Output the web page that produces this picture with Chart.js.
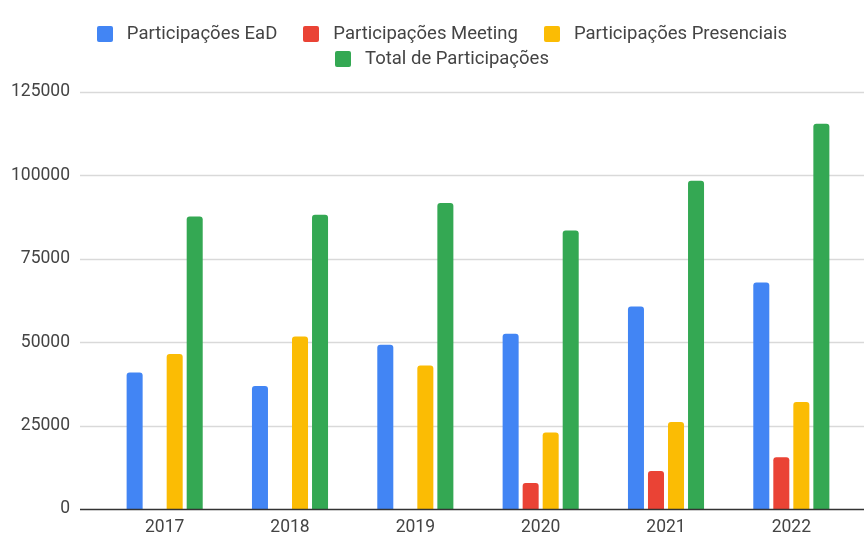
<!DOCTYPE html>
<html><head><meta charset="utf-8">
<script src="https://cdn.jsdelivr.net/npm/chart.js@4"></script>
<style>
html,body{margin:0;padding:0;background:#fff;}
#wrap{position:relative;width:864px;height:533px;overflow:hidden;}
#legend{position:absolute;left:82px;top:21px;width:720px;display:flex;flex-wrap:wrap;justify-content:center;font-family:Roboto,Arial,sans-serif;font-size:18.5px;line-height:25px;color:#444;}
#legend .it{display:inline-flex;align-items:center;margin:0 13px;white-space:nowrap;}
#legend .bx{width:16px;height:16px;border-radius:2px;margin-right:14px;}
canvas{display:block;}
</style></head>
<body><div id="wrap"><div id="legend"></div><canvas id="c" width="864" height="533"></canvas></div>
<script>
const categories = ['2017', '2018', '2019', '2020', '2021', '2022'];
const seriesNames = ['Participações EaD', 'Participações Meeting', 'Participações Presenciais', 'Total de Participações'];
const seriesColors = ['#4285F4', '#EA4335', '#FBBC04', '#34A853'];
const ead = [40900, 36900, 49200, 52500, 60700, 67900];
const meeting = [null, null, null, 7800, 11400, 15500];
const presenciais = [46500, 51700, 43000, 22900, 26100, 32100];
const total = [87700, 88200, 91700, 83500, 98400, 115500];
const yTicks = [0, 25000, 50000, 75000, 100000, 125000];

const seriesValues = [ead, meeting, presenciais, total];

// HTML legend
const lg = document.getElementById('legend');
seriesNames.forEach((n, i) => {
  const it = document.createElement('span'); it.className = 'it';
  const b = document.createElement('span'); b.className = 'bx'; b.style.background = seriesColors[i];
  const t = document.createElement('span'); t.textContent = n;
  it.appendChild(b); it.appendChild(t); lg.appendChild(it);
});

const gridPlugin = {
  id: 'fullGrid',
  beforeDatasetsDraw(chart) {
    const y = chart.scales.y, ctx = chart.ctx;
    ctx.save();
    yTicks.forEach(v => {
      if (v === 0) return;
      const py = Math.round(y.getPixelForValue(v)) + 0.5;
      ctx.strokeStyle = '#d9d9d9'; ctx.lineWidth = 1.4;
      ctx.beginPath(); ctx.moveTo(80, py); ctx.lineTo(chart.width, py); ctx.stroke();
    });
    ctx.restore();
  },
  afterDatasetsDraw(chart) {
    const y = chart.scales.y, ctx = chart.ctx;
    const py = Math.round(y.getPixelForValue(0)) + 0.5;
    ctx.save();
    ctx.strokeStyle = '#333'; ctx.lineWidth = 1.4;
    ctx.beginPath(); ctx.moveTo(80, py); ctx.lineTo(chart.width, py); ctx.stroke();
    ctx.restore();
  }
};

const font = { family: 'Roboto, Arial, sans-serif', size: 17.5 };

new Chart(document.getElementById('c'), {
  type: 'bar',
  data: {
    labels: categories,
    datasets: seriesNames.map((n, i) => ({
      label: n,
      data: seriesValues[i],
      backgroundColor: seriesColors[i],
      borderRadius: 3,
      borderSkipped: 'start',
      categoryPercentage: 0.639,
      barPercentage: 0.8
    }))
  },
  options: {
    responsive: false,
    animation: false,
    layout: { padding: { top: 92, right: 10, left: 0, bottom: 0 } },
    plugins: { legend: { display: false }, tooltip: { enabled: false } },
    scales: {
      x: {
        grid: { display: false, drawTicks: false },
        border: { display: false },
        ticks: { font: font, color: '#444', padding: 8 },
        afterFit(s) { s.height = 24; s.paddingTop = 0; s.paddingBottom = 0; }
      },
      y: {
        min: 0, max: 125000,
        afterBuildTicks(s) { s.ticks = yTicks.map(v => ({ value: v })); },
        grid: { display: false, drawTicks: false },
        border: { display: false },
        ticks: { font: font, color: '#444', padding: 32, callback: v => String(v) },
        afterFit(s) { s.width = 102; s.paddingTop = 0; s.paddingBottom = 0; }
      }
    }
  },
  plugins: [gridPlugin]
});
</script></body></html>
